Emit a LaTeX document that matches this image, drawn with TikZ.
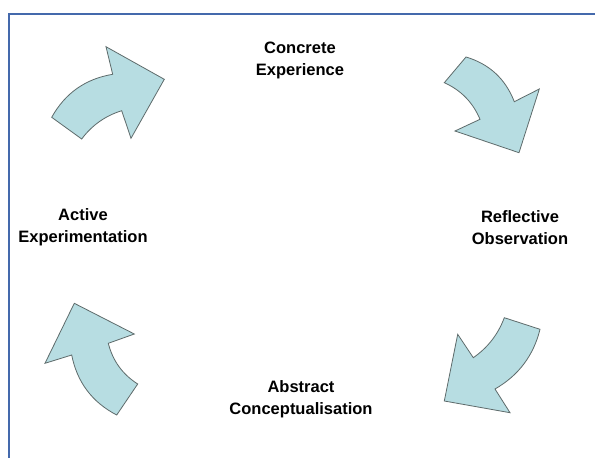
\documentclass[tikz,border=0pt]{standalone}
\usepackage{fontspec}
\setmainfont{Liberation Sans}
\definecolor{arrowfill}{HTML}{B7DDE2}
\definecolor{arrowline}{HTML}{5E6B6B}
\definecolor{frameblue}{HTML}{4469AC}
\begin{document}
\begin{tikzpicture}[x=1pt,y=-1pt,
  cyclearrow/.style={fill=arrowfill,draw=arrowline,line width=0.8pt,line join=miter},
  stage/.style={align=center,font=\fontsize{16.5}{22}\selectfont\bfseries,inner sep=0pt}]
\useasboundingbox (0,0) rectangle (595,458);
\fill[white] (0,0) rectangle (595,458);
% page frame
\draw[frameblue,line width=2pt] (600,14) -- (9,14) -- (9,470);

% stage labels
\node[stage] (ce) at (300,60) {Concrete\\Experience};
\node[stage] (ro) at (520,228) {Reflective\\Observation};
\node[stage] (ac) at (301,399) {Abstract\\Conceptualisation};
\node[stage] (ae) at (83,227) {Active\\Experimentation};

% top-left arrow
\draw[cyclearrow] (51.7,117.3) -- (81.7,139)
  .. controls (91.9,125.3) and (105.3,115.8) .. (121.7,110.7)
  -- (131,138.3) -- (164.3,79.3) -- (106,46.7) -- (112.7,74.3)
  .. controls (85.5,78.8) and (65.1,93.2) .. cycle;
% top-right arrow
\draw[cyclearrow] (466,57) -- (444.3,82.7)
  .. controls (461.0,90.2) and (472.9,102.4) .. (480,119.3)
  -- (455,131) -- (519,152.7) -- (539.3,89) -- (514.3,101.7)
  .. controls (505.5,78.9) and (489.4,64.0) .. cycle;
% bottom-right arrow
\draw[cyclearrow] (504.3,317.7) -- (540,329.3)
  .. controls (533.5,355.6) and (518.5,375.5) .. (495,389)
  -- (510,412.7) -- (444.3,401) -- (457.7,334.3) -- (473.3,357.7)
  .. controls (487.8,347.6) and (498.2,334.2) .. cycle;
% bottom-left arrow
\draw[cyclearrow] (116.7,415) -- (137.7,384)
  .. controls (122.5,374.3) and (112.7,360.8) .. (108.3,343.3)
  -- (134.3,334) -- (74.3,303.3) -- (45,363.3) -- (71.7,355)
  .. controls (77.1,382.2) and (92.1,402.2) .. cycle;
\end{tikzpicture}
\end{document}
